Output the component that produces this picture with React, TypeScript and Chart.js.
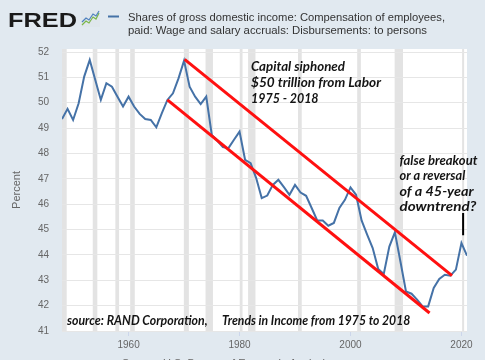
import React, { useEffect, useRef } from "react";
import Chart from "chart.js/auto";

const years = [
  1948, 1949, 1950, 1951, 1952, 1953, 1954, 1955, 1956, 1957, 1958, 1959,
  1960, 1961, 1962, 1963, 1964, 1965, 1966, 1967, 1968, 1969, 1970, 1971,
  1972, 1973, 1974, 1975, 1976, 1977, 1978, 1979, 1980, 1981, 1982, 1983,
  1984, 1985, 1986, 1987, 1988, 1989, 1990, 1991, 1992, 1993, 1994, 1995,
  1996, 1997, 1998, 1999, 2000, 2001, 2002, 2003, 2004, 2005, 2006, 2007,
  2008, 2009, 2010, 2011, 2012, 2013, 2014, 2015, 2016, 2017, 2018, 2019,
  2020, 2021,
];

const wageShare = [
  49.36, 49.76, 49.32, 49.98, 51.03, 51.69, 50.9, 50.11, 50.77, 50.63, 50.24, 49.85,
  50.24, 49.85, 49.56, 49.36, 49.32, 49.03, 49.59, 50.11, 50.37, 50.96, 51.66, 50.63,
  50.24, 49.95, 50.24, 48.73, 48.5, 48.25, 48.21, 48.54, 48.86, 47.75, 47.62, 47.03,
  46.24, 46.34, 46.76, 46.96, 46.67, 46.37, 46.76, 46.46, 46.33, 45.85, 45.36, 45.36,
  45.15, 45.26, 45.85, 46.17, 46.66, 46.37, 45.36, 44.8, 44.27, 43.44, 43.25, 44.33,
  44.89, 43.74, 42.56, 42.47, 42.24, 41.97, 41.97, 42.7, 43.05, 43.22, 43.18, 43.42,
  44.47, 43.97,
];

const upperChannelYears = [1970.1, 2018.3];
const upperChannelValues = [51.71, 43.18];
const lowerChannelYears = [1967.0, 2014.25];
const lowerChannelValues = [50.11, 41.71];
const markerYears = [2020.3, 2020.3];
const markerValues = [45.65, 44.78];

const recessionStart = [1948.0, 1953.54, 1957.62, 1960.29, 1969.96, 1973.87, 1980.04, 1981.54, 1990.54, 2001.21, 2007.96, 2020.12];
const recessionEnd = [1948.85, 1954.37, 1958.29, 1961.12, 1970.87, 1975.21, 1980.54, 1982.87, 1991.21, 2001.87, 2009.46, 2020.37];

const xTickYears = [1960, 1980, 2000, 2020];
const xMin = 1948;
const xMax = 2021;
const yMin = 41;
const yMax = 52;

const legendLine1 = "Shares of gross domestic income: Compensation of employees,";
const legendLine2 = "paid: Wage and salary accruals: Disbursements: to persons";
const noteCapital = ["Capital siphoned", "$50 trillion from Labor", "1975 - 2018"];
const noteBreakout = ["false breakout", "or a reversal", "of a 45-year", "downtrend?"];
const noteSourceA = "source: RAND Corporation,";
const noteSourceB = "Trends in Income from 1975 to 2018";

function fitText(ctx: CanvasRenderingContext2D, text: string, x: number, y: number, width: number) {
  const w = ctx.measureText(text).width;
  ctx.save();
  ctx.translate(x, y);
  ctx.scale(width / w, 1);
  ctx.fillText(text, 0, 0);
  ctx.restore();
}

const decorPlugin = {
  id: "decor",
  beforeDraw(chart: any) {
    const { ctx, chartArea, scales } = chart;
    ctx.save();
    ctx.fillStyle = "#e1e9f0";
    ctx.fillRect(0, 0, chart.width, chart.height);
    ctx.fillStyle = "#ffffff";
    ctx.fillRect(chartArea.left, chartArea.top - 3, chartArea.right - chartArea.left, chartArea.bottom - chartArea.top + 3);
    ctx.fillStyle = "#e3e3e3";
    for (let i = 0; i < recessionStart.length; i++) {
      const a = scales.x.getPixelForValue(recessionStart[i]);
      const b = scales.x.getPixelForValue(recessionEnd[i]);
      ctx.fillRect(a, chartArea.top - 3, Math.max(b - a, 2), chartArea.bottom - chartArea.top + 3);
    }
    ctx.restore();
  },
  afterDraw(chart: any) {
    const { ctx } = chart;
    ctx.save();
    // FRED logo
    ctx.fillStyle = "#1a1a1a";
    ctx.font = "bold 21px 'Liberation Sans', Arial, sans-serif";
    ctx.textBaseline = "alphabetic";
    fitText(ctx, "FRED", 8, 27, 69);
    // icon
    ctx.fillStyle = "#dfe6ec";
    ctx.fillRect(81, 10, 19, 17);
    ctx.lineWidth = 1.2;
    ctx.strokeStyle = "#7ab648";
    ctx.beginPath();
    ctx.moveTo(82, 25); ctx.lineTo(86, 21); ctx.lineTo(89, 23); ctx.lineTo(93, 17); ctx.lineTo(96, 19); ctx.lineTo(99, 13);
    ctx.stroke();
    ctx.strokeStyle = "#4f81bd";
    ctx.beginPath();
    ctx.moveTo(82, 22); ctx.lineTo(86, 18); ctx.lineTo(89, 20); ctx.lineTo(93, 14); ctx.lineTo(96, 16); ctx.lineTo(99, 11);
    ctx.stroke();
    // legend
    ctx.strokeStyle = "#4572a7";
    ctx.lineWidth = 2;
    ctx.beginPath();
    ctx.moveTo(108, 16.5); ctx.lineTo(119, 16.5);
    ctx.stroke();
    ctx.fillStyle = "#333333";
    ctx.font = "11px 'Liberation Sans', Arial, sans-serif";
    fitText(ctx, legendLine1, 128, 21, 317);
    fitText(ctx, legendLine2, 128, 34, 299);
    // y axis title
    ctx.save();
    ctx.translate(20, 190);
    ctx.rotate(-Math.PI / 2);
    ctx.fillStyle = "#666666";
    ctx.font = "11px 'Liberation Sans', Arial, sans-serif";
    ctx.textAlign = "center";
    ctx.fillText("Percent", 0, 0);
    ctx.restore();
    // bottom source (cut off)
    ctx.fillStyle = "#666666";
    ctx.font = "11px 'Liberation Sans', Arial, sans-serif";
    ctx.fillText("Source: U.S. Bureau of Economic Analysis", 122, 367);
    // annotations
    ctx.fillStyle = "#141414";
    ctx.font = "italic bold 13.5px Lato, 'Open Sans', sans-serif";
    const capW = [94, 130, 67.6];
    const capY = [71, 87, 102.5];
    noteCapital.forEach((t, i) => fitText(ctx, t, 251, capY[i], capW[i]));
    ctx.font = "italic bold 12.5px Lato, 'Open Sans', sans-serif";
    const brW = [78, 65.7, 74, 76.7];
    const brY = [165, 180, 195.5, 211];
    noteBreakout.forEach((t, i) => fitText(ctx, t, 399.5, brY[i], brW[i]));
    ctx.font = "italic bold 13px Lato, 'Open Sans', sans-serif";
    fitText(ctx, noteSourceA, 67, 324.5, 140.6);
    fitText(ctx, noteSourceB, 222, 324.5, 188.3);
    ctx.restore();
  },
};

export default function App() {
  const ref = useRef<HTMLCanvasElement | null>(null);
  useEffect(() => {
    if (!ref.current) return;
    const chart = new Chart(ref.current, {
      type: "line",
      data: {
        datasets: [
          {
            data: years.map((y, i) => ({ x: y, y: wageShare[i] })),
            borderColor: "#4572a7",
            borderWidth: 2,
            pointRadius: 0,
            tension: 0,
            order: 3,
          },
          {
            data: upperChannelYears.map((y, i) => ({ x: y, y: upperChannelValues[i] })),
            borderColor: "#ff1010",
            borderWidth: 3,
            pointRadius: 0,
            order: 1,
          },
          {
            data: lowerChannelYears.map((y, i) => ({ x: y, y: lowerChannelValues[i] })),
            borderColor: "#ff1010",
            borderWidth: 3,
            pointRadius: 0,
            order: 1,
          },
          {
            data: markerYears.map((y, i) => ({ x: y, y: markerValues[i] })),
            borderColor: "#000000",
            borderWidth: 2,
            pointRadius: 0,
            order: 1,
          },
        ],
      },
      options: {
        responsive: false,
        animation: false,
        parsing: true,
        layout: { padding: { top: 52, right: 18, left: 0, bottom: 0 } },
        plugins: { legend: { display: false }, tooltip: { enabled: false } },
        scales: {
          x: {
            type: "linear",
            min: xMin,
            max: xMax,
            afterFit: (s: any) => { s.height = 29; },
            afterBuildTicks: (s: any) => { s.ticks = xTickYears.map((v) => ({ value: v })); },
            grid: { display: true, drawOnChartArea: false, drawTicks: true, tickLength: 5, color: "#ccd6eb" },
            border: { display: false },
            ticks: {
              padding: 3,
              color: "#666666",
              font: { size: 10, family: "'Liberation Sans', Arial, sans-serif" },
              callback: (v: any) => String(v),
              maxRotation: 0,
            },
          },
          y: {
            min: yMin,
            max: yMax,
            afterFit: (s: any) => { s.width = 62; },
            grid: { color: "#e6e6e6", drawTicks: false },
            border: { display: false },
            ticks: {
              stepSize: 1,
              padding: 13,
              color: "#666666",
              font: { size: 10, family: "'Liberation Sans', Arial, sans-serif" },
            },
          },
        },
      },
      plugins: [decorPlugin],
    } as any);
    return () => chart.destroy();
  }, []);
  return (
    <div style={{ position: "fixed", left: 0, top: 0, width: 485, height: 360 }}>
      <canvas ref={ref} width={485} height={360} style={{ display: "block" }} />
    </div>
  );
}
